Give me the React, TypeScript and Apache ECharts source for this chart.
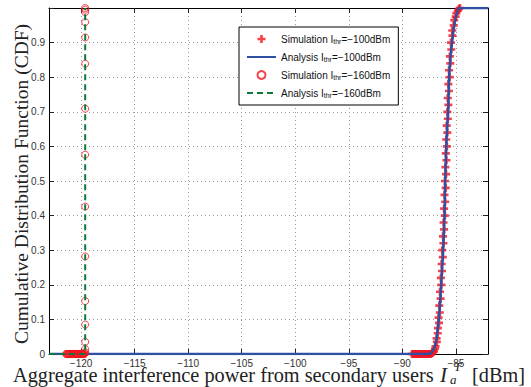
import React, { useEffect, useRef } from "react";
import * as echarts from "echarts";

// ---- data ----
const xTicks = [-120, -115, -110, -105, -100, -95, -90, -85];
const yTicks = [0, 0.1, 0.2, 0.3, 0.4, 0.5, 0.6, 0.7, 0.8, 0.9];

// Simulation, I_thr = -100 dBm (red plus)
const sim100: [number, number][] = [
  [-89.1, 0], [-89.0, 0], [-88.9, 0], [-88.8, 0], [-88.7, 0], [-88.6, 0], [-88.5, 0],
  [-88.4, 0], [-88.3, 0], [-88.2, 0], [-88.1, 0], [-88.0, 0], [-87.9, 0], [-87.8, 0],
  [-87.7, 0], [-87.6, 0], [-87.5, 0], [-87.4, 0], [-87.3, 0.001],
  [-87.2, 0.003], [-87.1, 0.006], [-87.05, 0.008], [-86.95, 0.015], [-86.9, 0.022],
  [-86.78, 0.035], [-86.8, 0.045], [-86.7, 0.06], [-86.68, 0.075], [-86.58, 0.09],
  [-86.62, 0.105], [-86.5, 0.12], [-86.55, 0.14], [-86.42, 0.16], [-86.48, 0.18],
  [-86.36, 0.2], [-86.4, 0.22], [-86.3, 0.24], [-86.33, 0.26], [-86.22, 0.28],
  [-86.27, 0.3], [-86.16, 0.32], [-86.2, 0.34], [-86.1, 0.36], [-86.15, 0.38],
  [-86.03, 0.4], [-86.1, 0.42], [-86.0, 0.44], [-86.06, 0.46], [-85.95, 0.48],
  [-86.02, 0.5], [-85.92, 0.52], [-85.98, 0.54], [-85.88, 0.56], [-85.94, 0.58],
  [-85.84, 0.6], [-85.9, 0.62], [-85.8, 0.64], [-85.86, 0.66], [-85.75, 0.68],
  [-85.8, 0.7], [-85.7, 0.72], [-85.76, 0.74], [-85.65, 0.76], [-85.7, 0.78],
  [-85.58, 0.8], [-85.64, 0.82], [-85.52, 0.84], [-85.56, 0.86], [-85.43, 0.88],
  [-85.46, 0.9], [-85.32, 0.92], [-85.34, 0.935], [-85.2, 0.95], [-85.15, 0.965],
  [-85.02, 0.975], [-84.95, 0.985], [-84.82, 0.992], [-84.72, 0.997], [-84.62, 1.0],
];

// Analysis, I_thr = -100 dBm (blue solid)
const ana100X = [-123, -87.5, -87.3, -87.15, -87.0, -86.8, -86.6, -86.45, -86.3, -86.19, -86.06, -86.0, -85.9, -85.8, -85.72, -85.63, -85.5, -85.36, -85.2, -85.0, -84.8, -84.65, -82];
const ana100Y = [0, 0, 0.004, 0.01, 0.02, 0.045, 0.1, 0.16, 0.24, 0.3, 0.4, 0.5, 0.6, 0.66, 0.7, 0.8, 0.86, 0.9, 0.94, 0.975, 0.995, 1, 1];

// Simulation, I_thr = -160 dBm (red circles)
const sim160: [number, number][] = [
  [-121.4, 0], [-121.35, 0], [-121.3, 0], [-121.25, 0], [-121.2, 0], [-121.15, 0],
  [-121.1, 0], [-121.05, 0], [-121.0, 0], [-120.95, 0], [-120.9, 0], [-120.85, 0],
  [-120.8, 0], [-120.75, 0], [-120.7, 0], [-120.65, 0], [-120.6, 0], [-120.55, 0],
  [-120.5, 0], [-120.45, 0], [-120.4, 0], [-120.35, 0], [-120.3, 0], [-120.25, 0],
  [-120.2, 0], [-120.15, 0], [-120.1, 0], [-120.05, 0], [-120.0, 0], [-119.95, 0],
  [-119.9, 0], [-119.85, 0], [-119.8, 0], [-119.75, 0], [-119.7, 0], [-119.65, 0.002],
  [-119.62, 0.005], [-119.62, 0.014], [-119.62, 0.035], [-119.62, 0.085], [-119.62, 0.153],
  [-119.62, 0.282], [-119.62, 0.426], [-119.62, 0.576], [-119.62, 0.709], [-119.62, 0.839],
  [-119.62, 0.915], [-119.62, 0.959], [-119.62, 0.988], [-119.62, 0.995], [-119.62, 1.0],
];

// Analysis, I_thr = -160 dBm (green dashed)
const ana160X = [-123, -119.62, -119.62];
const ana160Y = [0, 0, 1];

const legendText: Record<string, string> = {
  sim100: "Simulation I{sub|thr}=\u2212100dBm",
  ana100: "Analysis I{sub|thr}=\u2212100dBm",
  sim160: "Simulation I{sub|thr}=\u2212160dBm",
  ana160: "Analysis I{sub|thr}=\u2212160dBm",
};

const PLUS = "path://M3,0H6V3H9V6H6V9H3V6H0V3H3Z";
const SANS = "'Liberation Sans', Arial, Helvetica, sans-serif";
const SERIF = "'Liberation Serif', 'Times New Roman', serif";

const minus = (v: number) => String(v).replace("-", "\u2212");

export default function App() {
  const ref = useRef<HTMLDivElement>(null);
  useEffect(() => {
    document.body.style.margin = "0";
    const chart = echarts.init(ref.current!, undefined, { renderer: "svg" });
    const axisCommon = {
      type: "value" as const,
      axisLine: { show: true, onZero: false, lineStyle: { color: "#000", width: 1 } },
      axisTick: { show: true, inside: true, length: 5, lineStyle: { color: "#222" } },
    };
    const gridLine = { show: true, lineStyle: { color: "#999", type: [1, 3] as number[], width: 1 } };
    const hideSym = { opacity: 0 };
    chart.setOption({
      animation: false,
      backgroundColor: "#fff",
      grid: { left: 49, right: 43, top: 8, bottom: 33 },
      xAxis: [
        {
          ...axisCommon,
          position: "bottom",
          min: -123,
          max: -82,
          axisTick: { ...axisCommon.axisTick, customValues: xTicks },
          axisLabel: {
            customValues: xTicks,
            formatter: (v: number) => minus(v),
            fontFamily: SANS,
            fontSize: 10,
            color: "#333",
            margin: 4,
          },
          splitLine: gridLine,
        },
        {
          ...axisCommon,
          position: "top",
          min: -123,
          max: -82,
          axisTick: { ...axisCommon.axisTick, customValues: xTicks },
          axisLabel: { show: false, customValues: xTicks },
          splitLine: { show: false },
        },
      ],
      yAxis: [
        {
          ...axisCommon,
          position: "left",
          min: 0,
          max: 1,
          interval: 0.1,
          axisLabel: {
            formatter: (v: number) => {
              const r = Math.round(v * 10) / 10;
              return yTicks.includes(r) ? String(r) : "";
            },
            fontFamily: SANS,
            fontSize: 10,
            color: "#333",
            margin: 4,
          },
          splitLine: gridLine,
        },
        {
          ...axisCommon,
          position: "right",
          min: 0,
          max: 1,
          interval: 0.1,
          axisLabel: { show: false },
          splitLine: { show: false },
        },
      ],
      legend: {
        orient: "vertical",
        left: 239,
        top: 27,
        padding: [6, 8, 6, 7],
        itemGap: 6,
        itemWidth: 29,
        itemHeight: 8,
        itemTextGap: 3,
        backgroundColor: "#fff",
        borderColor: "#000",
        borderWidth: 1,
        borderRadius: 0,
        data: [
          { name: "sim100" },
          { name: "ana100", itemStyle: hideSym },
          { name: "sim160" },
          { name: "ana160", itemStyle: hideSym },
        ],
        formatter: (name: string) => legendText[name],
        textStyle: {
          fontFamily: SANS,
          fontSize: 10,
          color: "#111",
          lineHeight: 12,
          rich: {
            sub: { fontFamily: SANS, fontSize: 7, lineHeight: 8, verticalAlign: "bottom", color: "#111" },
          },
        },
      },
      series: [
        {
          name: "sim100",
          type: "scatter",
          data: sim100,
          symbol: PLUS,
          symbolSize: 8,
          itemStyle: { color: "#f0141e" },
          z: 2,
        },
        {
          name: "ana100",
          type: "line",
          data: ana100X.map((x, i) => [x, ana100Y[i]]),
          symbol: "none",
          smooth: 0.3,
          lineStyle: { color: "#2f4fa5", width: 2.5 },
          itemStyle: { color: "#2f4fa5" },
          z: 3,
        },
        {
          name: "sim160",
          type: "scatter",
          data: sim160,
          symbol: "circle",
          symbolSize: 7,
          itemStyle: { color: "transparent", borderColor: "#f0141e", borderWidth: 1 },
          z: 4,
        },
        {
          name: "ana160",
          type: "line",
          data: ana160X.map((x, i) => [x, ana160Y[i]]),
          symbol: "none",
          lineStyle: { color: "#0a7a3a", width: 2, type: [6, 4] },
          itemStyle: { color: "#0a7a3a" },
          z: 5,
        },
      ],
      graphic: [
        {
          type: "text",
          x: 21,
          y: 184,
          rotation: Math.PI / 2,
          style: {
            text: "Cumulative Distribution Function (CDF)",
            font: `19.5px ${SERIF}`,
            fill: "#222",
            align: "center",
            verticalAlign: "middle",
          },
        },
        {
          type: "text",
          x: 13,
          y: 375,
          style: {
            text: "Aggregate interference power from secondary users",
            font: `20.3px ${SERIF}`,
            fill: "#222",
            align: "left",
            verticalAlign: "middle",
          },
        },
        {
          type: "text",
          x: 440,
          y: 375,
          style: { text: "I", font: `italic 21px ${SERIF}`, fill: "#222", align: "left", verticalAlign: "middle" },
        },
        {
          type: "text",
          x: 450,
          y: 379.5,
          style: { text: "a", font: `italic 13px ${SERIF}`, fill: "#222", align: "left", verticalAlign: "middle" },
        },
        {
          type: "text",
          x: 454,
          y: 366,
          style: { text: "T", font: `italic 13px ${SERIF}`, fill: "#222", align: "left", verticalAlign: "middle" },
        },
        {
          type: "text",
          x: 472,
          y: 375,
          style: { text: "[dBm]", font: `20.3px ${SERIF}`, fill: "#222", align: "left", verticalAlign: "middle" },
        },
      ],
    });
    return () => chart.dispose();
  }, []);
  return <div ref={ref} style={{ width: 531, height: 387 }} />;
}
